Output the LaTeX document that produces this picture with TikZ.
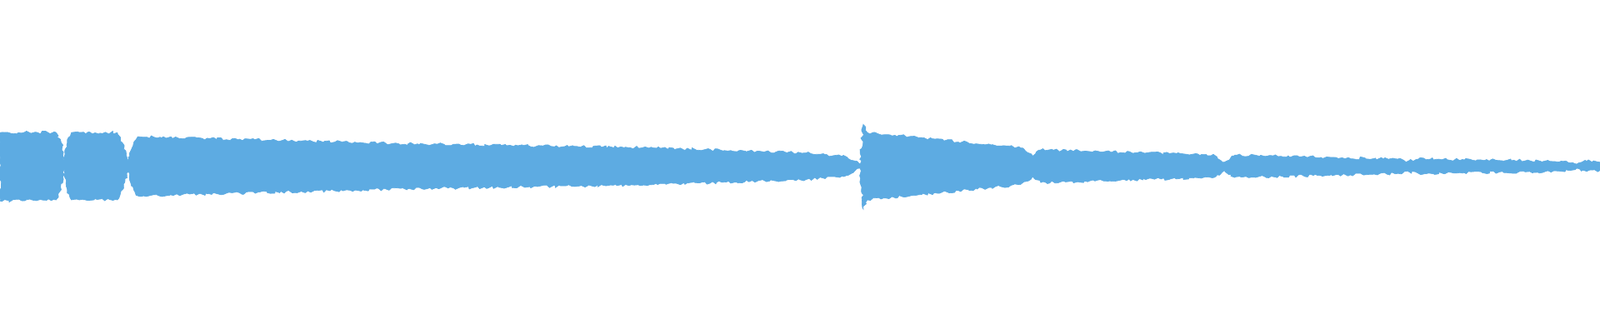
\documentclass[tikz,border=0pt]{standalone}
\usetikzlibrary{decorations.pathmorphing}
\definecolor{wave}{HTML}{5DABE2}
\tikzset{envelope/.style={fill=wave,draw=wave,line width=0.3pt,
  decorate,decoration={random steps,segment length=1.5pt,amplitude=0.8pt}}}
\begin{document}
\begin{tikzpicture}[x=0.02cm,y=-0.02cm]
\useasboundingbox (0,0) rectangle (1568,327);
% upper edge, then lower edge back
\path[envelope] (0,130)
  -- (55,130) -- (60,140) -- (63,160) -- (66,140) -- (70,130)
  -- (115,130) -- (120,140) -- (126,158) -- (131,140) -- (135,134)
  -- (400,141) -- (640,145) -- (790,150) -- (830,154) -- (843,161)
  -- (846,122) -- (850,130) -- (900,135) -- (1000,145) -- (1005,148)
  -- (1012,153) -- (1020,147) -- (1190,152) -- (1200,159) -- (1210,152)
  -- (1370,156) -- (1380,158) -- (1390,156) -- (1530,158) -- (1545,161)
  -- (1555,158) -- (1568,159)
  -- (1568,167) -- (1555,168) -- (1545,165) -- (1530,168) -- (1390,170)
  -- (1380,168) -- (1370,170) -- (1210,174) -- (1200,167) -- (1190,174)
  -- (1020,179) -- (1012,173) -- (1005,178) -- (1000,181) -- (900,191)
  -- (850,196) -- (846,205) -- (843,165) -- (830,172) -- (790,176)
  -- (640,181) -- (400,185) -- (135,192) -- (131,186) -- (126,168)
  -- (120,186) -- (115,196) -- (70,196) -- (66,186) -- (63,166)
  -- (60,186) -- (55,196) -- (0,197) -- cycle;
\end{tikzpicture}
\end{document}
